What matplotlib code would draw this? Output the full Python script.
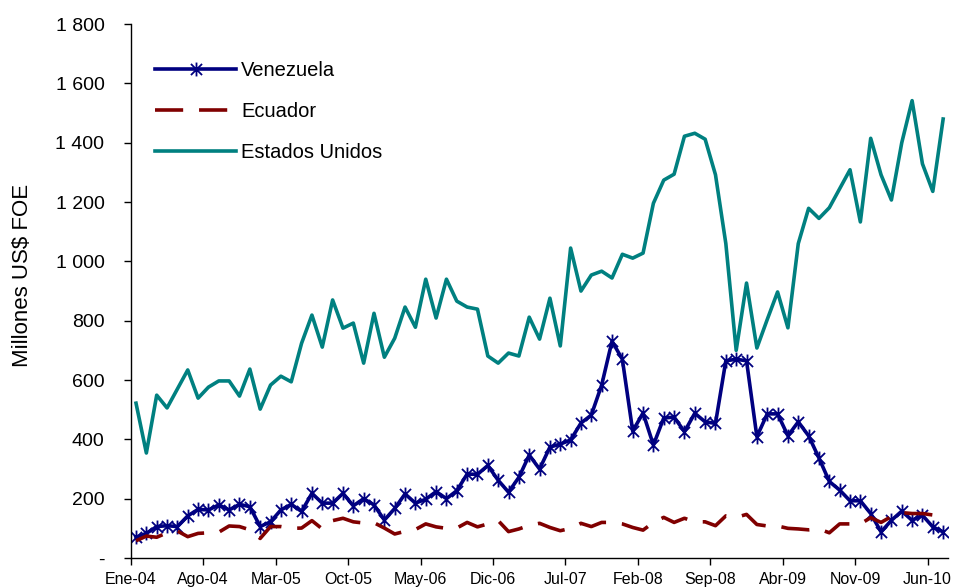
import matplotlib.pyplot as plt
from matplotlib.path import Path

plt.rcParams['font.family'] = ['Liberation Sans', 'DejaVu Sans']

# monthly, Ene-04 .. Jul-10
venezuela = [70, 83, 106, 109, 106, 142, 164, 162, 179, 162, 181, 173, 106, 122, 162, 181,
             157, 218, 185, 185, 218, 176, 200, 179, 128, 167, 216, 185, 198, 224, 200, 227,
             283, 282, 312, 262, 222, 272, 347, 300, 374, 384, 398, 455, 482, 583, 731, 670,
             428, 489, 381, 472, 475, 426, 488, 459, 454, 665, 670, 665, 409, 486, 486, 412,
             459, 412, 337, 258, 229, 193, 193, 150, 88, 127, 158, 127, 144, 105, 88]
ecuador = [58, 74, 70, 85, 91, 72, 83, 85, 87, 108, 106, 95, 66, 106, 106, 100,
           101, 126, 98, 126, 134, 122, 118, 119, 101, 81, 90, 96, 115, 105, 100, 101,
           120, 105, 115, 126, 89, 98, 110, 117, 103, 92, 100, 117, 106, 120, 120, 115,
           103, 94, 120, 137, 120, 134, 122, 122, 109, 142, 137, 147, 113, 108, 108, 100,
           98, 95, 98, 85, 115, 115, 115, 136, 120, 140, 153, 150, 150, 145, 150]
estados_unidos = [522, 354, 549, 506, 570, 634, 539, 576, 597, 597, 546, 637, 502, 583, 613, 594,
                  724, 819, 711, 870, 775, 792, 657, 825, 677, 741, 846, 778, 940, 809, 940, 866,
                  846, 839, 681, 657, 691, 681, 812, 738, 876, 715, 1045, 900, 954, 967, 944, 1024,
                  1011, 1028, 1196, 1274, 1294, 1422, 1432, 1412, 1292, 1060, 700, 927, 708, 804,
                  897, 776, 1060, 1179, 1145, 1181, 1245, 1309, 1133, 1415, 1292, 1207, 1400, 1542,
                  1329, 1236, 1480]

tick_labels = ['Ene-04', 'Ago-04', 'Mar-05', 'Oct-05', 'May-06', 'Dic-06',
               'Jul-07', 'Feb-08', 'Sep-08', 'Abr-09', 'Nov-09', 'Jun-10']
y_ticks = [0, 200, 400, 600, 800, 1000, 1200, 1400, 1600, 1800]
y_labels = ['-', '200', '400', '600', '800', '1 000', '1 200', '1 400', '1 600', '1 800']

x = list(range(len(venezuela)))

# excel-style star: an X with a vertical bar through it
star = Path([(0, -1), (0, 1), (-0.8, -0.8), (0.8, 0.8), (-0.8, 0.8), (0.8, -0.8)],
            [Path.MOVETO, Path.LINETO, Path.MOVETO, Path.LINETO, Path.MOVETO, Path.LINETO])

fig = plt.figure(figsize=(9.55, 5.88), dpi=100)
ax = fig.add_axes([0.137, 0.051, 0.856, 0.908])

ax.plot(x, venezuela, color='#000080', lw=2.6, marker=star, ms=10, mew=1.3,
        label='Venezuela')
ax.plot(x, ecuador, color='#800000', lw=2.6, dashes=(7.8, 4.4), label='Ecuador')
ax.plot(x, estados_unidos, color='#008080', lw=2.6, label='Estados Unidos')

ax.set_xlim(-0.5, len(x) - 0.5)
ax.set_ylim(0, 1800)
ax.set_yticks(y_ticks)
ax.set_yticklabels(y_labels, fontsize=14)
ax.set_xticks([7 * k - 0.5 for k in range(len(tick_labels))])
ax.set_xticklabels(tick_labels, fontsize=11.5)
ax.tick_params(axis='both', direction='out', length=5, width=1, color='black')
ax.tick_params(axis='y', pad=14)
ax.tick_params(axis='x', pad=5)

for s in ['top', 'right']:
    ax.spines[s].set_visible(False)
for s in ['left', 'bottom']:
    ax.spines[s].set_linewidth(1)

fig.text(22 / 955, 1 - 275 / 588, 'Millones US$ FOE', fontsize=16, rotation=90,
         ha='center', va='center')

ax.legend(loc='upper left', bbox_to_anchor=(0.008, 0.965), frameon=False, fontsize=14.5,
          handlelength=4.0, labelspacing=1.1, handletextpad=0.25)

fig.savefig('out.png', dpi=100)
